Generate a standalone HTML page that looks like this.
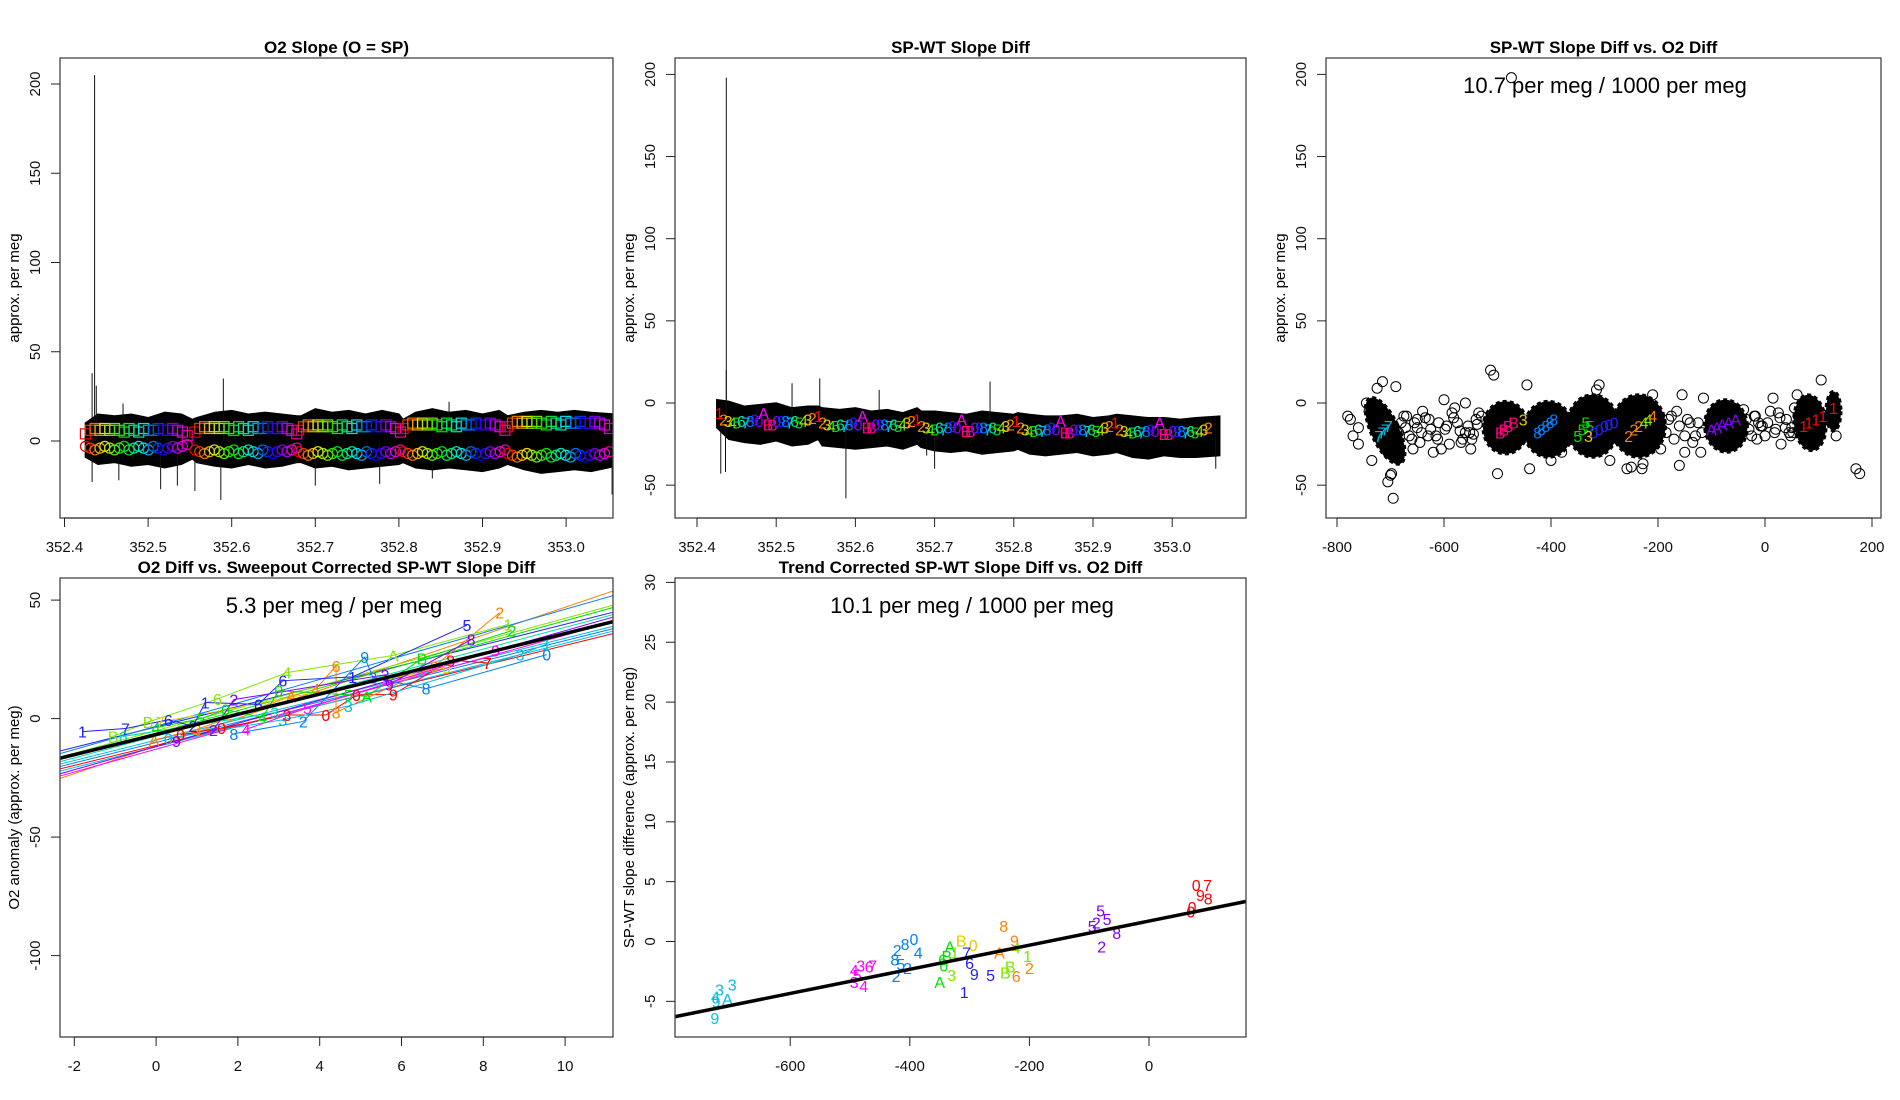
<!DOCTYPE html>
<html><head><meta charset="utf-8"><title>Slope diff panels</title>
<style>
html,body{margin:0;padding:0;background:#fff;}
svg{display:block;font-family:"Liberation Sans",Arial,sans-serif;}
</style></head>
<body>
<svg id="fig" xmlns="http://www.w3.org/2000/svg" width="1900" height="1100" viewBox="0 0 1900 1100"></svg>
<script>
// ---------- DATA ----------
const p1BandT = [352.425,352.44,352.46,352.48,352.50,352.52,352.54,352.553,352.558,352.58,352.60,352.62,352.64,352.66,352.678,352.683,352.70,352.72,352.74,352.76,352.78,352.80,352.805,352.82,352.84,352.86,352.88,352.90,352.92,352.93,352.95,352.97,352.99,353.01,353.03,353.06];
const p1Upper = [10,15,14,15,13,16,15,12,13,16,17,15,16,15,14,14,18,16,17,15,17,15,12,16,18,16,17,15,17,14,16,17,16,17,16,15];
const p1Lower = [-9,-13,-12,-14,-13,-15,-13,-10,-12,-14,-15,-13,-15,-14,-12,-12,-15,-14,-16,-15,-14,-13,-12,-15,-16,-15,-16,-17,-15,-13,-16,-18,-17,-16,-17,-14];
const p1SpikeT = [352.433,352.436,352.438,352.59,352.433,352.515,352.535,352.556,352.587,352.70,352.777,352.84,353.055,352.47,352.86,352.465];
const p1SpikeV = [38,205,31,35,-23,-27,-25,-28,-33,-25,-24,-21,-30,21,22,-22];
const p1CycleStart = [352.425,352.556,352.68,352.805,352.93];
const p1SquareBase = [6,7,8,9,10];
const p1SquareOff = [-2,0,1,0,1,0,1,0,-1,1,0,-1,1,0,0,1,0,0,1,0,-1,-3];
const p1CircleBase = [-4,-6,-7,-7,-8];
const p1CircleOff = [1,0,-1,0,1,0,-1,0,1,-1,0,1,0,-1,1,0,-1,0,1,0,1,2];

const p2BandT = [352.425,352.44,352.46,352.48,352.50,352.52,352.54,352.553,352.558,352.58,352.60,352.62,352.64,352.66,352.678,352.683,352.70,352.72,352.74,352.76,352.78,352.80,352.805,352.82,352.84,352.86,352.88,352.90,352.92,352.93,352.95,352.97,352.99,353.01,353.03,353.06];
const p2Upper = [2,1,-2,-1,0,-3,-2,-2,-3,-4,-3,-5,-4,-6,-3,-5,-5,-6,-7,-5,-6,-7,-6,-7,-8,-8,-7,-9,-8,-7,-8,-9,-9,-10,-9,-8];
const p2Lower = [-15,-22,-24,-25,-23,-26,-25,-22,-26,-27,-28,-27,-26,-28,-25,-27,-29,-30,-29,-31,-30,-29,-28,-31,-32,-31,-30,-32,-31,-30,-33,-34,-32,-33,-33,-32];
const p2SpikeT = [352.437,352.437,352.43,352.436,352.588,352.77,352.52,352.555,352.70,353.055,352.63,352.69];
const p2SpikeV = [198,20,-43,-42,-58,13,12,15,-40,-40,8,-32];
const p2CycleStart = [352.428,352.553,352.678,352.803,352.928];
const p2CycleLabels = ["1","2","3","4","5","6","7","8","9","0","A","B","B","0","9","8","7","6","5","4","3","2"];
const p2CycleBase = [-8,-10,-12,-13,-14];
const p2LabelOff = [2,-2,-3,-4,-4,-3,-4,-3,-2,-3,2,-5,-5,-3,-3,-3,-4,-3,-4,-3,-2,-1];

const p3BlobX = [-710,-485,-405,-322,-236,-73,84,128];
const p3BlobY = [-17,-15,-16,-14,-14,-14,-12,-5];
const p3BlobRX = [26,42,46,48,50,40,30,14];
const p3BlobRY = [22,16,17,19,19,16,17,12];
const p3BlobRot = [-25,0,0,0,0,-5,-5,0];
const p3PtX = [-715,-725,-690,-745,-740,-700,-705,-695,-698,-780,-770,-760,-735,-600,-580,-560,-650,-630,-610,-590,-570,-550,-540,-660,-670,-640,-620,-605,-513,-507,-500,-445,-440,-400,-380,-310,-315,-290,-258,-250,-230,-228,-210,-195,-180,-165,-155,-160,-150,-130,-120,-115,-35,-25,-15,0,10,15,30,40,50,60,55,105,170,177,133,-474,-680,-760,-775,-650,-625,-575,-560,-530,-548,-195,-140,-100,-20,-5,25,45,-705,
  -685,-675,-665,-655,-645,-635,-615,-595,-585,-565,-555,-545,-535,-690,-672,-658,-642,-628,-612,-598,-582,-568,-552,-538,-185,-175,-170,-160,-150,-145,-135,-125,-118,-30,-18,-8,5,18,28,38,48,62,-40,-12,20,52];
const p3PtY = [13,9,10,0,-5,-44,-48,-58,-43,-8,-20,-25,-35,2,-3,0,-15,-20,-12,-25,-17,-28,-10,-22,-8,-5,-30,-28,20,17,-43,11,-40,-35,-30,11,8,-35,-40,-39,-40,-37,5,-28,-10,-5,5,-38,-30,-20,-30,3,-10,-20,-22,-20,-5,3,-25,-10,-15,5,-3,14,-40,-43,-20,198,-12,-15,-10,-10,-16,-12,-18,-8,-22,-15,-12,-18,-8,-14,-6,-18,-30,
  -18,-8,-20,-12,-24,-9,-20,-14,-6,-22,-14,-19,-6,-25,-15,-28,-18,-10,-22,-16,-9,-24,-18,-13,-18,-8,-22,-14,-20,-10,-24,-12,-18,-16,-8,-14,-12,-18,-9,-15,-20,-8,-4,-12,-16,-18];
const p3LabX = [-722,-716,-710,-704,-495,-488,-480,-470,-452,-425,-418,-410,-402,-395,-350,-342,-335,-328,-320,-310,-300,-292,-282,-330,-255,-245,-236,-226,-218,-210,-100,-90,-80,-68,-55,72,82,95,108,128];
const p3LabY = [-20,-18,-16,-14,-18,-16,-14,-12,-10,-18,-16,-14,-12,-10,-20,-16,-12,-14,-18,-16,-14,-13,-12,-20,-20,-16,-14,-12,-10,-8,-16,-15,-13,-12,-10,-14,-12,-10,-8,-3];
const p3LabT = ["7","7","7","7","B","B","B","B","3","8","8","8","8","8","5","5","5","5","0","0","0","0","0","3","2","2","2","4","4","4","A","A","A","A","A","1","1","1","1","1"];
const p3LabC = [6,6,6,6,11,11,11,11,2,7,7,7,7,7,4,4,4,4,8,8,8,8,8,2,1,1,1,3,3,1,9,9,9,9,9,0,0,0,0,0];

const p4X = [-1.8,-0.75,-1.05,-0.8,-0.2,0.1,0.3,0.0,-0.05,0.3,0.5,0.6,1.1,1.2,1.5,1.9,1.7,2.5,1.9,2.2,3.1,3.2,3.0,3.3,3.9,4.4,5.1,5.8,4.8,5.3,5.6,5.7,5.8,6.6,6.5,6.8,7.1,7.2,7.6,7.7,8.4,8.6,8.7,8.1,8.3,8.9,9.55,9.55,4.7,4.9,5.15,4.7,4.15,4.4,3.6,3.1,3.2,1.4,1.6,1.0,0.9,2.6,2.9,3.7];
const p4Y = [-5.5,-4.2,-7.5,-7.5,-1.5,-1.5,-0.5,-3.8,-9,-8.3,-9.5,-6.8,0,6.8,8.3,8,3.8,6,-6.4,-4.5,16,19.4,11.8,9.4,12.4,22.2,26,26.7,17.6,17.3,18.5,14.4,10.2,12.6,25.3,22,21.5,24.6,39.4,33.3,44.7,39.7,37.1,23.5,28.8,27,27,31.5,10,10,9.4,5.3,1.5,2.6,-1.2,-0.5,1.5,-4.8,-4,-4.5,-3.2,0.5,2.5,4.5];
const p4L = ["1","7","B","6","B","7","6","4","A","0","9","0","5","1","6","2","0","6","8","4","6","4","0","A","4","6","9","A","1","2","3","9","9","8","B","0","0","8","5","8","2","1","2","7","9","3","0","1","5","0","A","3","0","8","2","3","3","2","0","3","2","4","3","5"];
const p4C = [8,8,3,5,3,2,8,4,1,6,9,0,4,8,3,9,4,8,7,10,8,3,4,1,1,1,7,3,8,7,9,9,0,7,4,1,2,0,8,9,1,3,4,0,10,6,7,6,4,0,4,6,0,1,7,6,0,9,0,1,8,4,5,10];
const p4Intercepts = [-3.5,-11.5,-5.1,-6.1,-7.4,-9.1,-10.1,-11.3,-11.9,-11.8,-12.9,-3.2];
const p4Slopes = [4.33,5.85,4.74,4.74,4.59,4.30,4.30,4.22,4.37,4.89,4.81,4.93];
const p4LineColors = [8,1,3,4,5,6,7,0,6,9,10,7];
const p4FitIntercept = -6.7;
const p4FitSlope = 4.26;

const p5X = [-718,-697,-725,-705,-726,-724,-493,-482,-462,-468,-477,-493,-488,-421,-408,-393,-386,-425,-404,-423,-415,-333,-350,-343,-338,-345,-330,-325,-314,-294,-309,-265,-305,-292,-300,-243,-225,-200,-222,-250,-203,-222,-240,-232,-81,-70,-79,-54,-95,-88,79,98,86,99,72,70];
const p5Y = [-4,-3.6,-4.6,-4.8,-6.4,-5,-2.4,-2,-2,-2.1,-3.7,-3.4,-2.8,-0.7,-0.2,0.2,-0.9,-1.5,-2.2,-2.9,-1.9,-0.4,-3.4,-2,-1.2,-1.5,-2.8,-0.9,0.1,-0.3,-4.2,-2.8,-0.9,-2.7,-1.8,1.3,0.1,-2.2,-2.9,-0.9,-1.2,-0.5,-2.6,-2.1,2.6,1.9,-0.4,0.7,1.3,1.6,4.7,4.7,3.9,3.6,2.9,2.5];
const p5L = ["3","3","4","A","9","9","4","3","7","6","4","3","5","2","8","0","4","8","2","2","5","A","A","0","B","6","3","1","B","0","1","5","7","9","6","8","9","2","6","A","1","4","B","B","5","5","2","8","5","2","0","7","9","8","0","0"];
const p5C = [6,6,6,6,6,6,10,10,10,10,10,10,10,7,7,7,7,7,7,7,7,4,4,4,4,4,3,3,2,2,8,8,8,8,8,1,1,1,1,1,3,3,3,3,9,9,9,9,9,9,0,0,0,0,0,0];
const p5FitIntercept = 1.71;
const p5FitSlope = 0.01008;

const p1XTicks = [352.4,352.5,352.6,352.7,352.8,352.9,353.0];
const p1XTickLabels = ["352.4","352.5","352.6","352.7","352.8","352.9","353.0"];
const p1YTicks = [0,50,100,150,200];
const p2YTicks = [-50,0,50,100,150,200];
const p3XTicks = [-800,-600,-400,-200,0,200];
const p3YTicks = [-50,0,50,100,150,200];
const p4XTicks = [-2,0,2,4,6,8,10];
const p4YTicks = [-100,-50,0,50];
const p5XTicks = [-600,-400,-200,0];
const p5YTicks = [-5,0,5,10,15,20,25,30];

// ---------- DRAWING ----------
const NS = "http://www.w3.org/2000/svg";
const svg = document.getElementById("fig");
const PAL = ["#FF0000","#FF8000","#E6C800","#80E600","#00E000","#00E0A0","#00C0E0","#0080FF","#2020FF","#8000FF","#FF00FF","#FF0080"];
function named(el, n) {
  
  
  return el;
}
function mk(tag, attrs, parent) {
  const el = document.createElementNS(NS, tag);
  for (const k in attrs) el.setAttribute(k, attrs[k]);
  (parent || svg).appendChild(el);
  return el;
}
function txt(s, x, y, attrs, parent, name) {
  const el = mk("text", Object.assign({x: x, y: y, "text-anchor": "middle"}, attrs), parent);
  el.textContent = s;
  named(el, name);
  return el;
}
function hue(i, n) { return "hsl(" + Math.round(360 * i / n * 0.92) + ",100%,45%)"; }

function panel(name, box, sx, sy, xt, xtl, yt, title, ylab) {
  const g = mk("g", {}, svg);
  named(g, name);
  const clipId = name + "-clip";
  const cp = mk("clipPath", {id: clipId}, g);
  mk("rect", {x: box[0], y: box[1], width: box[2] - box[0], height: box[3] - box[1]}, cp);
  const plot = mk("g", {"clip-path": "url(#" + clipId + ")"}, g);
  named(plot, name + "-plot-area");
  const fr = mk("rect", {x: box[0], y: box[1], width: box[2] - box[0], height: box[3] - box[1], fill: "none", stroke: "#444", "stroke-width": 1.3}, g);
  named(fr, name + "-frame");
  const xa = mk("g", {}, g);
  named(xa, name + "-x-axis");
  const xl = mk("line", {x1: sx(xt[0]), x2: sx(xt[xt.length - 1]), y1: box[3], y2: box[3], stroke: "#222", "stroke-width": 1}, xa);
  named(xl, name + "-x-axis-line");
  xt.forEach(function (v, i) {
    const t = mk("line", {x1: sx(v), x2: sx(v), y1: box[3], y2: box[3] + 9, stroke: "#222"}, xa);
    named(t, name + "-x-tick");
    txt(xtl ? xtl[i] : String(v), sx(v), box[3] + 34, {"font-size": 15, fill: "#111"}, xa, name + "-x-tick-label");
  });
  const ya = mk("g", {}, g);
  named(ya, name + "-y-axis");
  yt.forEach(function (v) {
    const t = mk("line", {x1: box[0] - 9, x2: box[0], y1: sy(v), y2: sy(v), stroke: "#222"}, ya);
    named(t, name + "-y-tick");
    const lx = box[0] - 24, ly = sy(v);
    txt(String(v), lx, ly, {"font-size": 15, fill: "#111", transform: "rotate(-90 " + lx + " " + ly + ")", "dominant-baseline": "middle"}, ya, name + "-y-tick-label");
  });
  txt(title, (box[0] + box[2]) / 2, box[1] - 5, {"font-size": 17, "font-weight": "bold", fill: "#000"}, g, name + "-title");
  const yx = box[0] - 45, yy = (box[1] + box[3]) / 2;
  txt(ylab, yx, yy, {"font-size": 15, fill: "#000", transform: "rotate(-90 " + yx + " " + yy + ")", "dominant-baseline": "middle"}, g, name + "-y-axis-title");
  return plot;
}

// Panel 1
(function () {
  const box = [60, 58, 613, 518];
  const sx = v => 64.5 + (v - 352.4) * 836;
  const sy = v => 441 - v * 1.785;
  const plot = panel("o2-slope-panel", box, sx, sy, p1XTicks, p1XTickLabels, p1YTicks, "O2 Slope (O = SP)", "approx. per meg");
  let pts = p1BandT.map((t, i) => sx(t) + "," + sy(p1Upper[i]));
  pts = pts.concat(p1BandT.slice().reverse().map((t, i) => sx(t) + "," + sy(p1Lower[p1Lower.length - 1 - i])));
  const band = mk("polygon", {points: pts.join(" "), fill: "#000", stroke: "#000", "stroke-width": 1.5}, plot);
  named(band, "o2-slope-noise-band");
  p1SpikeT.forEach(function (t, i) {
    const s = mk("line", {x1: sx(t), x2: sx(t), y1: sy(0), y2: sy(p1SpikeV[i]), stroke: "#111", "stroke-width": 1}, plot);
    named(s, "o2-slope-spike");
  });
  p1CycleStart.forEach(function (c, ci) {
    p1SquareOff.forEach(function (o, j) {
      const x = sx(c + j * 0.0058), y = sy(p1SquareBase[ci] + o);
      const r = mk("rect", {x: x - 5, y: y - 5, width: 10, height: 10, fill: "none", stroke: hue(j, 22), "stroke-width": 1.2}, plot);
      named(r, "o2-slope-square-marker");
    });
    p1CircleOff.forEach(function (o, j) {
      const x = sx(c + j * 0.0058), y = sy(p1CircleBase[ci] + o);
      const r = mk("circle", {cx: x, cy: y, r: 5, fill: "none", stroke: hue(j, 22), "stroke-width": 1.2}, plot);
      named(r, "o2-slope-circle-marker");
    });
  });
})();

// Panel 2
(function () {
  const box = [675, 58, 1246, 518];
  const sx = v => 697 + (v - 352.4) * 792;
  const sy = v => 403 - v * 1.643;
  const plot = panel("sp-wt-slope-diff-panel", box, sx, sy, p1XTicks, p1XTickLabels, p2YTicks, "SP-WT Slope Diff", "approx. per meg");
  let pts = p2BandT.map((t, i) => sx(t) + "," + sy(p2Upper[i]));
  pts = pts.concat(p2BandT.slice().reverse().map((t, i) => sx(t) + "," + sy(p2Lower[p2Lower.length - 1 - i])));
  const band = mk("polygon", {points: pts.join(" "), fill: "#000", stroke: "#000", "stroke-width": 1.5}, plot);
  named(band, "slope-diff-noise-band");
  p2SpikeT.forEach(function (t, i) {
    const s = mk("line", {x1: sx(t), x2: sx(t), y1: sy(-12), y2: sy(p2SpikeV[i]), stroke: "#111", "stroke-width": 1}, plot);
    named(s, "slope-diff-spike");
  });
  const order = "1234567890AB";
  p2CycleStart.forEach(function (c, ci) {
    p2CycleLabels.forEach(function (l, j) {
      const x = sx(c + j * 0.0056), y = sy(p2CycleBase[ci] + p2LabelOff[j]);
      txt(l, x, y + 6, {"font-size": 16, fill: PAL[order.indexOf(l)]}, plot, "slope-diff-point-label");
    });
  });
})();

// Panel 3
(function () {
  const box = [1326, 58, 1881, 518];
  const sx = v => 1337 + (v + 800) * 0.535;
  const sy = v => 403 - v * 1.643;
  const plot = panel("slope-vs-o2-scatter-panel", box, sx, sy, p3XTicks, null, p3YTicks, "SP-WT Slope Diff vs. O2 Diff", "approx. per meg");
  p3PtX.forEach(function (x, i) {
    const c = mk("circle", {cx: sx(x), cy: sy(p3PtY[i]), r: 5, fill: "none", stroke: "#000", "stroke-width": 1}, plot);
    named(c, "scatter-point");
  });
  p3BlobX.forEach(function (x, i) {
    const cx = sx(x), cy = sy(p3BlobY[i]);
    const e = mk("ellipse", {cx: cx, cy: cy, rx: p3BlobRX[i] * 0.535, ry: p3BlobRY[i] * 1.643, fill: "#000", stroke: "#000", "stroke-width": 3, "stroke-dasharray": "4 3", transform: "rotate(" + p3BlobRot[i] + " " + cx + " " + cy + ")"}, plot);
    named(e, "scatter-dense-cluster");
  });
  p3LabX.forEach(function (x, i) {
    txt(p3LabT[i], sx(x), sy(p3LabY[i]) + 6, {"font-size": 16, fill: PAL[p3LabC[i]]}, plot, "scatter-group-label");
  });
  txt("10.7 per meg / 1000 per meg", 1605, 93, {"font-size": 22, fill: "#000"}, plot, "scatter-slope-annotation");
})();

// Panel 4
(function () {
  const box = [60, 578, 613, 1037];
  const sx = v => 74.3 + (v + 2) * 40.9;
  const sy = v => 718.6 - v * 2.37;
  const plot = panel("o2-vs-sweepout-panel", box, sx, sy, p4XTicks, null, p4YTicks, "O2 Diff vs. Sweepout Corrected SP-WT Slope Diff", "O2 anomaly (approx. per meg)");
  p4Intercepts.forEach(function (b, i) {
    const m = p4Slopes[i];
    const l = mk("line", {x1: sx(-2.5), y1: sy(b + m * -2.5), x2: sx(11.5), y2: sy(b + m * 11.5), stroke: PAL[p4LineColors[i]], "stroke-width": 1}, plot);
    named(l, "group-regression-line");
  });
  for (let c = 0; c < PAL.length; c++) {
    const idx = p4X.map((x, i) => i).filter(i => p4C[i] === c).sort((a, b) => p4X[a] - p4X[b]);
    if (idx.length < 2) continue;
    const pl = mk("polyline", {points: idx.map(i => sx(p4X[i]) + "," + sy(p4Y[i])).join(" "), fill: "none", stroke: PAL[c], "stroke-width": 1}, plot);
    named(pl, "group-connecting-line");
  }
  p4X.forEach(function (x, i) {
    txt(p4L[i], sx(x), sy(p4Y[i]) + 6, {"font-size": 16, fill: PAL[p4C[i]]}, plot, "group-point-label");
  });
  const fit = mk("line", {x1: sx(-2.5), y1: sy(p4FitIntercept + p4FitSlope * -2.5), x2: sx(11.5), y2: sy(p4FitIntercept + p4FitSlope * 11.5), stroke: "#000", "stroke-width": 3.5}, plot);
  named(fit, "overall-fit-line");
  txt("5.3 per meg / per meg", 334, 613, {"font-size": 22, fill: "#000"}, plot, "fit-slope-annotation");
})();

// Panel 5
(function () {
  const box = [675, 578, 1246, 1037];
  const sx = v => 1149 + v * 0.598;
  const sy = v => 941.5 - v * 11.97;
  const plot = panel("trend-corrected-panel", box, sx, sy, p5XTicks, null, p5YTicks, "Trend Corrected SP-WT Slope Diff vs. O2 Diff", "SP-WT slope difference (approx. per meg)");
  p5X.forEach(function (x, i) {
    txt(p5L[i], sx(x), sy(p5Y[i]) + 6, {"font-size": 16, fill: PAL[p5C[i]]}, plot, "trend-point-label");
  });
  const fit = mk("line", {x1: sx(-800), y1: sy(p5FitIntercept + p5FitSlope * -800), x2: sx(200), y2: sy(p5FitIntercept + p5FitSlope * 200), stroke: "#000", "stroke-width": 3.5}, plot);
  named(fit, "trend-fit-line");
  txt("10.1 per meg / 1000 per meg", 972, 613, {"font-size": 22, fill: "#000"}, plot, "trend-slope-annotation");
})();
</script>
</body></html>
